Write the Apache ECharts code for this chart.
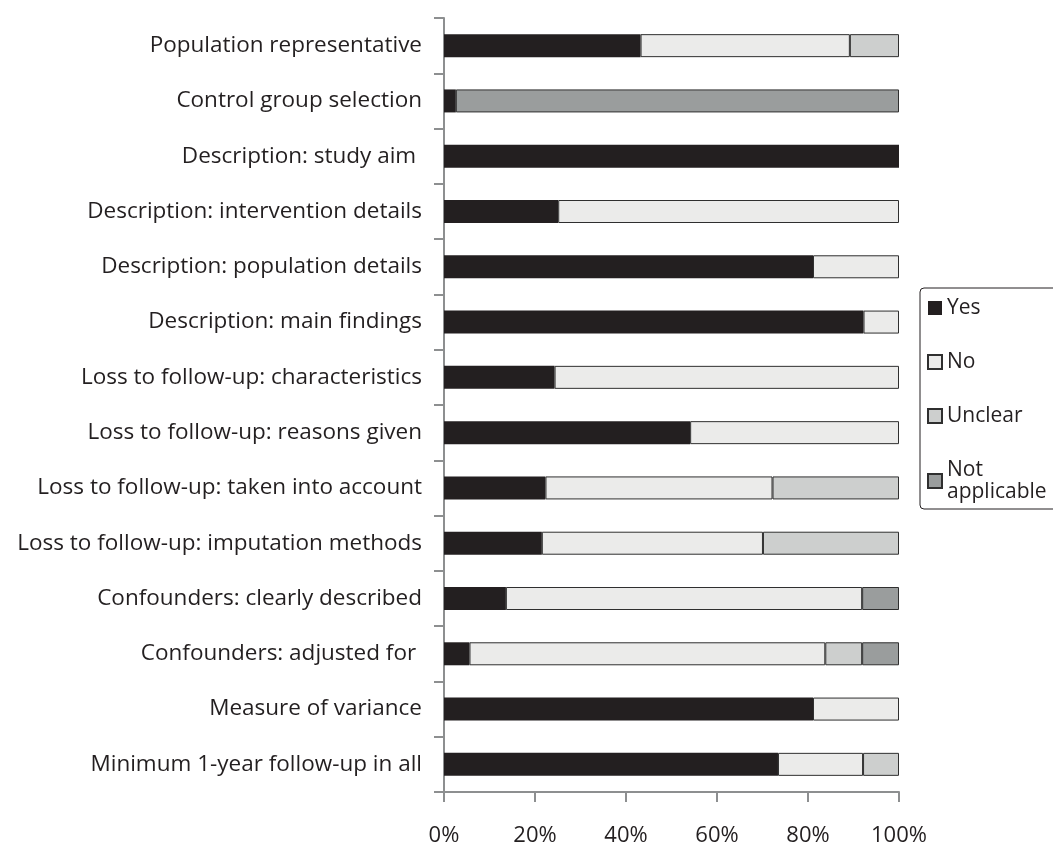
<!DOCTYPE html>
<html>
<head>
<meta charset="utf-8">
<script src="https://cdn.jsdelivr.net/npm/echarts@6/dist/echarts.min.js"></script>
<style>
  html, body { margin: 0; padding: 0; background: #fff; }
  #chart { width: 1053px; height: 845px; }
</style>
</head>
<body>
<div id="chart"></div>
<script>
// quality criteria, top to bottom
var categories = [
  'Population representative',
  'Control group selection',
  'Description: study aim ',
  'Description: intervention details',
  'Description: population details',
  'Description: main findings',
  'Loss to follow-up: characteristics',
  'Loss to follow-up: reasons given',
  'Loss to follow-up: taken into account',
  'Loss to follow-up: imputation methods',
  'Confounders: clearly described',
  'Confounders: adjusted for ',
  'Measure of variance',
  'Minimum 1-year follow-up in all'
];

// percentages ('-' = no segment)
var yesVals     = [43.2, 2.6, 100, 25.1, 81.1, 92.2, 24.3, 54.1, 22.3, 21.5, 13.6, 5.6, 81.1, 73.4];
var noVals      = [46.0, '-', '-', 74.9, 18.9, 7.8, 75.7, 45.9, 49.9, 48.6, 78.3, 78.2, 18.9, 18.7];
var unclearVals = [10.8, '-', '-', '-', '-', '-', '-', '-', 27.8, 29.9, '-', 8.1, '-', 7.9];
var naVals      = ['-', 97.4, '-', '-', '-', '-', '-', '-', '-', '-', 8.1, 8.1, '-', '-'];

var xTicks = [0, 20, 40, 60, 80, 100];

var FONT = 'Open Sans';
var TXT = '#231f20';
var AXIS = '#8d8f90';

var chart = echarts.init(document.getElementById('chart'));

function seg(name, data, color, border) {
  return {
    name: name,
    type: 'bar',
    stack: 'total',
    barWidth: 23,
    data: data,
    itemStyle: {
      color: color,
      borderColor: border ? '#2f2f2f' : color,
      borderWidth: border ? 1 : 0
    }
  };
}

var option = {
  backgroundColor: '#fff',
  animation: false,
  textStyle: { fontFamily: FONT, color: TXT },
  grid: { left: 444, right: 154, top: 18, bottom: 53, containLabel: false, outerBoundsMode: 'none' },
  legend: {
    orient: 'vertical',
    left: 920,
    top: 288,
    padding: [9, 30, 6, 7],
    itemGap: 32,
    itemWidth: 14,
    itemHeight: 14,
    icon: 'rect',
    borderColor: '#231f20',
    borderWidth: 1,
    borderRadius: 4,
    textStyle: { fontFamily: FONT, fontSize: 21, color: TXT, lineHeight: 22 },
    formatter: function (name) { return name === 'Not applicable' ? 'Not\napplicable' : name; },
    data: ['Yes', 'No', 'Unclear', 'Not applicable']
  },
  xAxis: {
    type: 'value',
    min: 0,
    max: 100,
    interval: 20,
    axisLine: { show: true, lineStyle: { color: AXIS, width: 2 } },
    axisTick: { show: true, length: 10, lineStyle: { color: AXIS, width: 2 } },
    splitLine: { show: false },
    axisLabel: {
      formatter: function (v) { return xTicks.indexOf(v) >= 0 ? v + '%' : ''; },
      fontFamily: FONT, fontSize: 22, color: TXT, margin: 33
    }
  },
  yAxis: {
    type: 'category',
    inverse: true,
    data: categories,
    axisLine: { show: true, lineStyle: { color: AXIS, width: 2 } },
    axisTick: { show: true, length: 10, lineStyle: { color: AXIS, width: 2 } },
    axisLabel: { fontFamily: FONT, fontSize: 22.5, color: TXT, margin: 22 }
  },
  series: [
    seg('Yes', yesVals, '#231f20', false),
    seg('No', noVals, '#ebebea', true),
    seg('Unclear', unclearVals, '#cdcfce', true),
    seg('Not applicable', naVals, '#9a9d9d', true)
  ]
};

chart.setOption(option);
</script>
</body>
</html>
